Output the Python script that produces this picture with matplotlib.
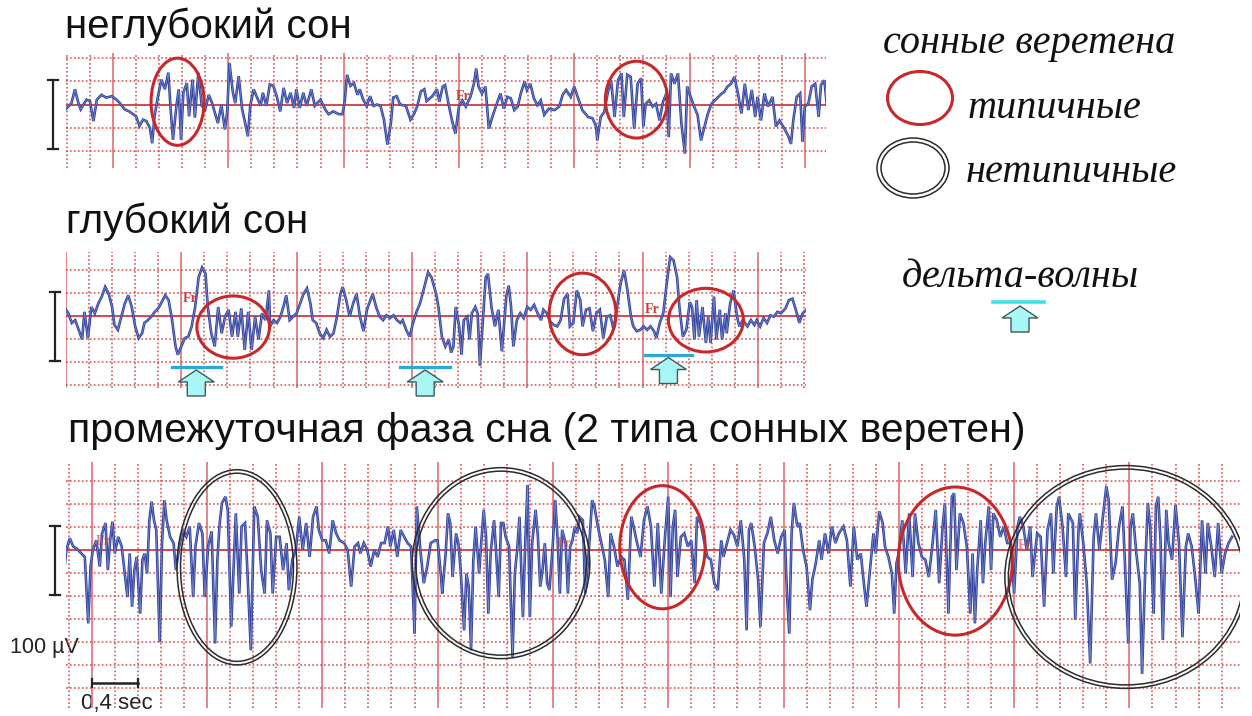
import numpy as np
import matplotlib
matplotlib.use('Agg')
import matplotlib.pyplot as plt
from matplotlib.patches import Ellipse, Polygon
from matplotlib import transforms, font_manager

# ---- data: EEG turning points (time s, amplitude uV) ----
light_sleep = [
    (-0.41, -7), (-0.36, 2), (-0.33, 22), (-0.30, 2), (-0.28, -7), (-0.23, 7), (-0.20, 5), (-0.17, -24),
    (-0.14, 7), (-0.10, 14), (-0.06, 10), (-0.01, 12), (0.03, 7), (0.06, 2), (0.10, -7), (0.14, -10),
    (0.20, -17), (0.23, -31), (0.26, -22), (0.29, -24), (0.32, -34), (0.34, -56), (0.36, -17), (0.39, 12),
    (0.42, 36), (0.45, 22), (0.48, 46), (0.50, -7), (0.52, -51), (0.55, -2), (0.57, 22), (0.59, -51),
    (0.61, 17), (0.64, 31), (0.66, -17), (0.69, 36), (0.71, -19), (0.74, 46), (0.77, -2), (0.80, -7),
    (0.83, 14), (0.86, 2), (0.88, -10), (0.91, -27), (0.94, 0), (0.97, -36), (0.99, -12), (1.01, 60),
    (1.04, 17), (1.06, 2), (1.09, 41), (1.12, -7), (1.14, -22), (1.17, -46), (1.19, -2), (1.22, 22),
    (1.25, 10), (1.28, -2), (1.30, 17), (1.33, -2), (1.36, 29), (1.39, 27), (1.42, 12), (1.45, -10),
    (1.48, 24), (1.51, 2), (1.54, 17), (1.57, -5), (1.59, 22), (1.62, -5), (1.65, 17), (1.68, -2),
    (1.72, 22), (1.75, -2), (1.80, 7), (1.84, -7), (1.87, -14), (1.91, -10), (1.96, -14), (1.99, -14),
    (2.01, 5), (2.03, 43), (2.06, 27), (2.09, 31), (2.12, 14), (2.14, 22), (2.17, 7), (2.20, -2),
    (2.23, 12), (2.26, -2), (2.29, 0), (2.32, -2), (2.35, -22), (2.38, -58), (2.41, -27), (2.43, 10),
    (2.46, 12), (2.49, 0), (2.54, -2), (2.58, -22), (2.61, -14), (2.64, -2), (2.67, 19), (2.70, 22),
    (2.72, 5), (2.77, 12), (2.81, 22), (2.83, 4), (2.86, 26), (2.88, 28), (2.91, 1), (2.94, -23),
    (2.97, -42), (3.00, -3), (3.03, 6), (3.06, -3), (3.10, 11), (3.13, 30), (3.15, 52), (3.17, 26),
    (3.20, 16), (3.23, 26), (3.26, -35), (3.29, -18), (3.32, -3), (3.36, 16), (3.39, -6), (3.42, 11),
    (3.45, 9), (3.48, -8), (3.51, -3), (3.54, 18), (3.57, 33), (3.59, 21), (3.62, 30), (3.65, 9),
    (3.68, -1), (3.71, 6), (3.74, -15), (3.78, -6), (3.83, -8), (3.87, -3), (3.90, 14), (3.93, 21),
    (3.97, 11), (4.00, 26), (4.03, 11), (4.07, -8), (4.12, -18), (4.16, -20), (4.19, -32), (4.20, -52),
    (4.23, -18), (4.26, -11), (4.29, 16), (4.32, 35), (4.35, -18), (4.38, 35), (4.41, 45), (4.43, -18),
    (4.46, 43), (4.49, 40), (4.52, -35), (4.55, 30), (4.58, 38), (4.60, -32), (4.62, 1), (4.65, 6),
    (4.68, -3), (4.71, 1), (4.74, -23), (4.77, 4), (4.80, 16), (4.82, -47), (4.84, 45), (4.87, 30),
    (4.90, 45), (4.93, -28), (4.96, -71), (4.98, 26), (5.01, 11), (5.04, -3), (5.07, -15), (5.10, -52),
    (5.13, -32), (5.16, -13), (5.19, 1), (5.22, 6), (5.25, 11), (5.28, 16), (5.30, 18), (5.33, 26),
    (5.36, 30), (5.39, 40), (5.42, 16), (5.45, -13), (5.48, 30), (5.51, -8), (5.54, 21), (5.57, -18),
    (5.59, 11), (5.62, -23), (5.65, 16), (5.68, -3), (5.72, 11), (5.75, -32), (5.78, -23), (5.83, -37),
    (5.86, -47), (5.88, -57), (5.90, -23), (5.93, 11), (5.96, 16), (5.98, -54), (6.00, -3), (6.03, 1),
    (6.06, 26), (6.09, 30), (6.12, -18), (6.14, 28), (6.17, 35), (6.19, 1),
]

deep_sleep = [
    (0.00, 9), (0.02, 4), (0.05, -10), (0.08, -6), (0.11, -20), (0.14, -34), (0.16, 6), (0.19, -32),
    (0.22, 13), (0.25, 4), (0.28, 18), (0.31, 28), (0.34, 42), (0.37, 32), (0.40, 13), (0.42, -13),
    (0.45, -20), (0.48, -1), (0.51, 18), (0.54, 30), (0.57, 13), (0.60, -15), (0.63, -32), (0.66, -25),
    (0.68, -10), (0.71, -6), (0.74, -1), (0.77, 6), (0.80, 11), (0.83, 20), (0.86, 30), (0.89, 23),
    (0.92, -6), (0.95, -44), (0.97, -56), (1.00, -44), (1.03, -32), (1.06, -30), (1.09, -15), (1.12, 13),
    (1.15, 56), (1.18, 70), (1.21, 61), (1.23, 13), (1.26, -25), (1.29, -44), (1.32, 13), (1.35, -25),
    (1.38, -1), (1.41, 9), (1.44, -30), (1.47, 6), (1.49, -30), (1.52, 11), (1.55, -49), (1.58, 6),
    (1.61, -49), (1.64, -1), (1.67, -34), (1.70, 4), (1.73, -6), (1.76, 37), (1.77, -15), (1.80, -6),
    (1.83, -10), (1.86, -1), (1.89, 16), (1.91, 30), (1.94, -6), (1.97, -1), (2.00, 4), (2.03, 18),
    (2.06, 32), (2.09, 40), (2.12, 18), (2.14, -6), (2.17, -10), (2.20, -25), (2.23, -32), (2.26, -20),
    (2.29, -30), (2.32, -25), (2.35, -1), (2.38, 32), (2.40, 42), (2.43, 23), (2.46, -1), (2.49, 18),
    (2.52, 32), (2.55, -1), (2.58, -22), (2.61, 9), (2.64, 23), (2.66, 32), (2.69, 13), (2.72, -1),
    (2.75, -6), (2.78, 1), (2.81, -3), (2.84, 1), (2.87, -6), (2.90, -10), (2.92, -6), (2.95, -20),
    (2.98, -30), (3.01, -10), (3.04, 6), (3.07, 18), (3.10, 37), (3.14, 63), (3.17, 56), (3.21, 32),
    (3.23, 13), (3.26, -30), (3.29, -44), (3.32, -34), (3.34, -53), (3.36, -44), (3.38, 13), (3.41, -15),
    (3.43, -56), (3.45, -6), (3.48, -1), (3.50, -34), (3.52, 4), (3.55, 13), (3.57, 4), (3.59, -72),
    (3.62, 4), (3.64, 56), (3.66, 61), (3.69, 13), (3.72, -15), (3.75, 9), (3.78, -51), (3.80, -10),
    (3.82, 30), (3.84, 44), (3.86, 13), (3.88, -44), (3.91, -6), (3.94, 4), (3.97, -3), (4.00, 13),
    (4.03, 9), (4.06, 16), (4.09, 4), (4.12, -6), (4.14, 9), (4.17, 4), (4.20, -8), (4.23, -13),
    (4.26, -15), (4.29, -6), (4.32, 25), (4.35, 32), (4.37, -15), (4.40, -10), (4.43, 37), (4.46, 23),
    (4.48, -15), (4.51, 9), (4.54, 11), (4.57, -22), (4.60, 4), (4.63, 9), (4.66, -32), (4.69, -1),
    (4.72, 1), (4.75, -20), (4.78, 13), (4.81, 47), (4.84, 66), (4.87, 37), (4.90, -1), (4.92, -15),
    (4.95, -22), (4.98, -20), (5.01, -15), (5.04, -20), (5.07, -15), (5.10, -22), (5.12, -32), (5.15, -10),
    (5.18, 4), (5.21, 47), (5.24, 85), (5.27, 80), (5.30, 56), (5.32, 13), (5.35, -30), (5.38, -20),
    (5.41, 20), (5.43, 13), (5.45, -34), (5.47, 23), (5.49, -30), (5.52, 13), (5.55, -39), (5.57, -1),
    (5.59, -39), (5.62, 28), (5.64, -34), (5.67, 9), (5.69, -34), (5.72, 4), (5.73, -25), (5.76, 18),
    (5.79, 37), (5.82, -1), (5.84, -15), (5.87, -6), (5.91, -15), (5.94, -6), (5.97, -13), (5.99, -6),
    (6.02, -15), (6.05, -3), (6.08, -10), (6.11, 1), (6.14, -1), (6.17, 6), (6.20, 4), (6.24, 11),
    (6.27, 23), (6.30, 25), (6.33, 9), (6.36, -10), (6.39, 4), (6.42, 9),
]

intermediate = [
    (-0.26, 34), (-0.24, -34), (-0.22, 0), (-0.19, 17), (-0.16, 5), (-0.13, 2), (-0.09, -5), (-0.06, -10),
    (-0.03, -106), (-0.01, -24), (0.01, 0), (0.04, 14), (0.07, -24), (0.09, 24), (0.12, 39), (0.14, -29),
    (0.16, 14), (0.18, 41), (0.20, -5), (0.23, 19), (0.26, 5), (0.29, -39), (0.31, -68), (0.33, -5),
    (0.35, -82), (0.37, -29), (0.39, -10), (0.42, -92), (0.44, -14), (0.46, -5), (0.48, -34), (0.50, 43),
    (0.52, 70), (0.54, 43), (0.56, 29), (0.59, -133), (0.61, 10), (0.63, 72), (0.65, 43), (0.68, 19),
    (0.71, 10), (0.73, -29), (0.76, 5), (0.79, 29), (0.82, 19), (0.85, 34), (0.88, -68), (0.90, 5),
    (0.93, 39), (0.96, 24), (0.98, -68), (1.01, 5), (1.04, 27), (1.07, -135), (1.09, -14), (1.11, 39),
    (1.13, 68), (1.16, 77), (1.18, 58), (1.21, -111), (1.24, 10), (1.25, 53), (1.28, -63), (1.30, 34),
    (1.33, 39), (1.35, -29), (1.38, -145), (1.41, 63), (1.44, 48), (1.47, -29), (1.50, -63), (1.52, 43),
    (1.55, 24), (1.57, -63), (1.60, 19), (1.63, 19), (1.66, -29), (1.69, 10), (1.71, -58), (1.74, -14),
    (1.77, 0), (1.80, 48), (1.83, 0), (1.86, 39), (1.89, -10), (1.92, 48), (1.95, 63), (1.97, 29),
    (2.00, 14), (2.03, 14), (2.06, -5), (2.09, 43), (2.12, 24), (2.15, 14), (2.19, 10), (2.22, 0),
    (2.25, -53), (2.28, 5), (2.31, 10), (2.33, -5), (2.36, 10), (2.39, 0), (2.42, -24), (2.45, 0),
    (2.48, -10), (2.51, 10), (2.54, 10), (2.57, 34), (2.59, 5), (2.62, 29), (2.65, -10), (2.68, 29),
    (2.71, 19), (2.74, 10), (2.77, 5), (2.80, -121), (2.82, 63), (2.85, 0), (2.88, -48), (2.91, -24),
    (2.94, 10), (2.98, 14), (3.00, 14), (3.03, -39), (3.04, -63), (3.07, -5), (3.09, 53), (3.11, 39),
    (3.13, -39), (3.16, 24), (3.18, 10), (3.20, -29), (3.23, -116), (3.25, -34), (3.27, -53), (3.29, -145),
    (3.31, -14), (3.33, 34), (3.36, -34), (3.38, 14), (3.40, 58), (3.42, 19), (3.44, -92), (3.46, -5),
    (3.49, 43), (3.51, -10), (3.53, -68), (3.55, 39), (3.57, 39), (3.59, 19), (3.62, 5), (3.65, -155),
    (3.67, -34), (3.69, 0), (3.71, 48), (3.74, -97), (3.76, 10), (3.78, 94), (3.80, -97), (3.82, 10),
    (3.85, 58), (3.87, 19), (3.89, -53), (3.91, -29), (3.93, 10), (3.95, -48), (3.97, -58), (4.00, 10),
    (4.02, 72), (4.04, 19), (4.06, -63), (4.08, 29), (4.11, 10), (4.13, -63), (4.15, 5), (4.17, 14),
    (4.19, 34), (4.21, 24), (4.23, 48), (4.26, 43), (4.28, -63), (4.31, -5), (4.34, 72), (4.36, 63),
    (4.39, 34), (4.42, 10), (4.45, -14), (4.48, -68), (4.50, 24), (4.53, 5), (4.56, -24), (4.59, -10),
    (4.62, -14), (4.65, -72), (4.68, 48), (4.70, 34), (4.73, 10), (4.76, -10), (4.79, 43), (4.82, 63),
    (4.85, 34), (4.88, -53), (4.91, 39), (4.94, -63), (4.97, 14), (5.00, 77), (5.02, -68), (5.04, 34),
    (5.06, 58), (5.08, -39), (5.11, 19), (5.14, 24), (5.17, 5), (5.20, 14), (5.23, -48), (5.25, 48),
    (5.28, 39), (5.31, 14), (5.34, -10), (5.37, -14), (5.40, -48), (5.43, -58), (5.46, 14), (5.48, -10),
    (5.51, 10), (5.54, 29), (5.57, 22), (5.60, 5), (5.63, 43), (5.66, -14), (5.68, -116), (5.70, 29),
    (5.72, 39), (5.75, 5), (5.78, -43), (5.80, -111), (5.83, 10), (5.86, 24), (5.89, 48), (5.92, 14),
    (5.95, -5), (5.98, 19), (6.01, 29), (6.03, -63), (6.05, -121), (6.07, 24), (6.09, 68), (6.12, 34),
    (6.14, 39), (6.17, 0), (6.20, -24), (6.23, -87), (6.25, -43), (6.28, -19), (6.31, 14), (6.33, -14),
    (6.36, 24), (6.39, -5), (6.42, 34), (6.45, 10), (6.48, 24), (6.52, 34), (6.55, 14), (6.58, -53),
    (6.61, 34), (6.64, -14), (6.67, -5), (6.70, -53), (6.72, -82), (6.75, -29), (6.78, 24), (6.80, -5),
    (6.83, 56), (6.86, 39), (6.88, 5), (6.91, -10), (6.94, -34), (6.96, -92), (6.98, -19), (7.00, -5),
    (7.03, 43), (7.06, -34), (7.09, 53), (7.12, -39), (7.14, 53), (7.17, 10), (7.20, -10), (7.23, -14),
    (7.26, -39), (7.29, 5), (7.32, 58), (7.35, -48), (7.38, 34), (7.40, 68), (7.43, -92), (7.46, 77),
    (7.48, 82), (7.50, -29), (7.53, 53), (7.56, 39), (7.59, 5), (7.62, -92), (7.64, -5), (7.66, -106),
    (7.68, -29), (7.71, 43), (7.73, -48), (7.75, 10), (7.78, 63), (7.80, -29), (7.82, 53), (7.85, 43),
    (7.88, 19), (7.91, 34), (7.94, 10), (7.97, 10), (8.00, -63), (8.03, 34), (8.05, 48), (8.08, 34),
    (8.11, 0), (8.14, 34), (8.16, -39), (8.20, 24), (8.23, 19), (8.26, -82), (8.29, 29), (8.32, 53),
    (8.34, -34), (8.37, 63), (8.39, 77), (8.42, 34), (8.45, -39), (8.47, 53), (8.51, 39), (8.53, -101),
    (8.56, 34), (8.57, 53), (8.60, 10), (8.63, -48), (8.66, -164), (8.69, 19), (8.71, 53), (8.74, 0),
    (8.77, 48), (8.80, 92), (8.82, 72), (8.85, -43), (8.88, -19), (8.91, 34), (8.94, 63), (8.96, -14),
    (8.99, -135), (9.01, 34), (9.03, 53), (9.06, -5), (9.09, -48), (9.11, -179), (9.14, -14), (9.16, 68),
    (9.18, 34), (9.21, -92), (9.23, 63), (9.25, 77), (9.27, 14), (9.29, -130), (9.32, 58), (9.34, 10),
    (9.37, -14), (9.40, 65), (9.43, 10), (9.46, -126), (9.49, 5), (9.51, 24), (9.54, 5), (9.57, -39),
    (9.60, -92), (9.63, 43), (9.66, -34), (9.68, 39), (9.71, 5), (9.74, -39), (9.77, 39), (9.80, -34),
    (9.83, -5), (9.86, 10), (9.89, 19),
]

# annotations (centre time s, centre uV, width s, height uV)
light_typical = [(0.56, 4, 0.46, 126), (4.54, 7, 0.54, 111)]
deep_typical = [(1.45, -16, 0.63, 90), (4.48, 3, 0.58, 118), (5.55, -6, 0.65, 92)]
inter_typical = [(4.95, 4, 0.74, 178), (7.49, -16, 0.99, 214)]
inter_atypical = [(1.26, -25, 1.04, 282), (3.55, -19, 1.54, 276), (8.97, -39, 2.10, 322)]
delta_marks = [(0.92, 1.34, -74), (2.90, 3.33, -74), (5.02, 5.43, -56)]  # t start, t end, uV
fr_light = [(3.04, 12)]
fr_deep = [(1.08, 26), (5.08, 9)]
fr_inter = [(0.10, 12), (4.10, 10), (8.10, 7)]

titles = ['неглубокий сон', 'глубокий сон', 'промежуточная фаза сна (2 типа сонных веретен)']
legend_labels = ['сонные веретена', 'типичные', 'нетипичные', 'дельта-волны']

W, H = 1252, 716
PX_S, PX_UV = 115.3, 0.692
RED = '#c8282a'
TRACE = '#33439c'
CYAN_LINE = '#2aa9d6'
ARROW_FILL = '#a9f6f6'

fig = plt.figure(figsize=(W / 100, H / 100), dpi=100)
fig.patch.set_facecolor('white')

ov = fig.add_axes([0, 0, 1, 1])
ov.set_xlim(0, W)
ov.set_ylim(H, 0)
ov.axis('off')


def panel(x0, x1, y0, y1, xt0, yv0):
    ax = fig.add_axes([x0 / W, 1 - y1 / H, (x1 - x0) / W, (y1 - y0) / H])
    ax.set_xlim((x0 - xt0) / PX_S, (x1 - xt0) / PX_S)
    ax.set_ylim((yv0 - y1) / PX_UV, (yv0 - y0) / PX_UV)
    ax.axis('off')
    lo, hi = ax.get_xlim()
    for k in range(int(np.ceil(lo / 0.2 - 1e-6)), int(np.floor(hi / 0.2 + 1e-6)) + 1):
        if k % 5 == 0:
            ax.axvline(k * 0.2, color='#e07c7c', lw=1.3, zorder=1)
        else:
            ax.axvline(k * 0.2, color='#d9494b', lw=1.1, ls=(0, (1.1, 1.5)), zorder=1)
    vlo, vhi = ax.get_ylim()
    div = 100 / 3
    for j in range(int(np.ceil(vlo / div)), int(np.floor(vhi / div)) + 1):
        if j == 0:
            ax.axhline(0, color='#d23a3a', lw=1.3, zorder=1)
        else:
            ax.axhline(j * div, color='#d9494b', lw=1.1, ls=(0, (1.1, 1.5)), zorder=1)
    return ax


def trace(ax, pts):
    t, v = np.array(pts, dtype=float).T
    ax.plot(t, v, color=TRACE, lw=1.9, zorder=3, solid_joinstyle='miter')
    ax.plot(t, v, color='#7d8fd6', lw=0.5, zorder=3)


def red_ellipses(ax, items):
    for t, v, w, h in items:
        ax.add_patch(Ellipse((t, v), w, h, fill=False, ec=RED, lw=2.2, zorder=5))


def double_ellipses(ax, items, px_s=PX_S, px_uv=PX_UV):
    for t, v, w, h in items:
        ax.add_patch(Ellipse((t, v), w, h, fill=False, ec='#2b2b2b', lw=1.1, zorder=5))
        ax.add_patch(Ellipse((t, v), w - 7 / px_s, h - 7 / px_uv, fill=False, ec='#2b2b2b', lw=1.1, zorder=5))


def up_arrow(ax, x, y):
    pts = np.array([[0, 0], [18, -12], [9, -12], [9, -26], [-9, -26], [-9, -12], [-18, -12]], float)
    tr = transforms.ScaledTranslation(x, y, ax.transData)
    ax.add_patch(Polygon(pts, closed=True, transform=transforms.IdentityTransform() + tr,
                         fc=ARROW_FILL, ec='#40595c', lw=1.0, zorder=6, clip_on=False))


def scale_bar(ax, t):
    ax.plot([t, t], [35, -65], color='#222222', lw=1.6, clip_on=False)
    for v in (35, -65):
        ax.plot([t - 0.04, t + 0.04], [v, v], color='#222222', lw=1.6, clip_on=False)


def fr(ax, items, alpha=1.0):
    for t, v in items:
        ax.text(t, v, 'Fr', color='#d23a3a', fontsize=10, family='Liberation Serif',
                weight='bold', ha='center', va='center', zorder=4, alpha=alpha)


# panel 1: light sleep
ax1 = panel(66, 826, 53, 168, 113, 104.5)
trace(ax1, light_sleep)
red_ellipses(ax1, light_typical)
fr(ax1, fr_light)
scale_bar(ax1, (53 - 113) / PX_S)

# panel 2: deep sleep
ax2 = panel(66, 806, 252, 388, 66, 316)
trace(ax2, deep_sleep)
red_ellipses(ax2, deep_typical)
fr(ax2, fr_deep)
scale_bar(ax2, (55 - 66) / PX_S)
for ts, te, v in delta_marks:
    ax2.plot([ts, te], [v, v], color=CYAN_LINE, lw=2.3, zorder=6, clip_on=False)
    up_arrow(ax2, (ts + te) / 2, v - 4)

# panel 3: intermediate phase
ax3 = panel(66, 1240, 462, 708, 91.7, 550)
trace(ax3, intermediate)
red_ellipses(ax3, inter_typical)
double_ellipses(ax3, inter_atypical)
fr(ax3, fr_inter, alpha=0.6)
scale_bar(ax3, (55 - 91.7) / PX_S)
ax3.plot([0, 0.4], [-192, -192], color='#222222', lw=1.8, clip_on=False, zorder=6)
for t in (0, 0.4):
    ax3.plot([t, t], [-186, -198], color='#222222', lw=1.6, clip_on=False, zorder=6)

# texts and legend in pixel coordinates
title_font = dict(family='Liberation Sans', fontsize=29, color='#111111', va='baseline', ha='left')
ov.text(65, 38, titles[0], **title_font)
ov.text(66, 233, titles[1], **title_font)
ov.text(68, 442, titles[2], **{**title_font, 'fontsize': 29.5})

ov.text(10, 648, '100 µV', family='Liberation Sans', fontsize=15.5, color='#222222', va='center', ha='left')
ov.text(117, 703, '0,4 sec', family='Liberation Sans', fontsize=16, color='#222222', va='center', ha='center')

leg_font = dict(family='Liberation Serif', style='italic', fontsize=29, color='#111111', va='baseline', ha='left')
ov.text(883, 53, legend_labels[0], **leg_font)
ov.text(968, 118, legend_labels[1], **leg_font)
ov.text(966, 182, legend_labels[2], **leg_font)
ov.text(902, 287, legend_labels[3], **leg_font)

ov.add_patch(Ellipse((920, 98), 65, 53, fill=False, ec=RED, lw=2.2))
ov.add_patch(Ellipse((913, 168), 72, 60, fill=False, ec='#2b2b2b', lw=1.1))
ov.add_patch(Ellipse((913, 168), 64, 52, fill=False, ec='#2b2b2b', lw=1.1))
ov.plot([993, 1044], [302, 302], color='#3fe0e6', lw=2.6)
up_arrow(ov, 1020, 306)

fig.savefig('out.png', dpi=100, facecolor='white')
